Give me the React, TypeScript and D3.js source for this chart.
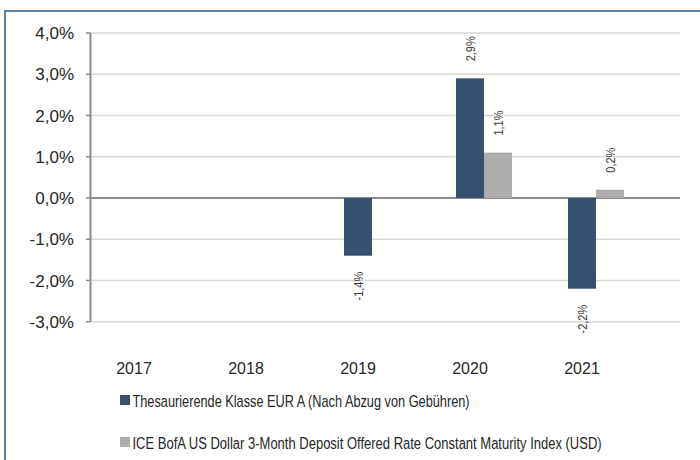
import React, { useLayoutEffect, useRef, useState } from "react";
import * as d3 from "d3";

const categories = ["2017", "2018", "2019", "2020", "2021"];
const seriesNames = [
  "Thesaurierende Klasse EUR A (Nach Abzug von Gebühren)",
  "ICE BofA US Dollar 3-Month Deposit Offered Rate Constant Maturity Index (USD)",
];
const fundValues: (number | null)[] = [null, null, -1.4, 2.9, -2.2];
const indexValues: (number | null)[] = [null, null, null, 1.1, 0.2];
const yTicks = [4, 3, 2, 1, 0, -1, -2, -3];

const colors = ["#36506f", "#adadad"];
const legendWidths = [337, 469];

const fmt = (v: number) => v.toFixed(1).replace(".", ",") + "%";
const font = "'Liberation Sans', Arial, sans-serif";

function FitText({
  x,
  y,
  width,
  children,
}: {
  x: number;
  y: number;
  width: number;
  children: string;
}) {
  const ref = useRef<SVGTextElement>(null);
  const [k, setK] = useState(0.75);
  useLayoutEffect(() => {
    if (ref.current) {
      const w = ref.current.getComputedTextLength();
      if (w > 0) setK(width / w);
    }
  }, [width, children]);
  return (
    <text
      ref={ref}
      transform={`translate(${x},${y}) scale(${k},1)`}
      fontFamily={font}
      fontSize={17}
      fill="#262626"
    >
      {children}
    </text>
  );
}

export default function App() {
  const W = 700;
  const H = 460;
  const y = d3.scaleLinear().domain([-3, 4]).range([321.7, 33]);
  const x = d3
    .scaleBand<string>()
    .domain(categories)
    .range([92, 652])
    .paddingInner(0.5)
    .paddingOuter(0.25);
  const x1 = d3.scaleBand<number>().domain([0, 1]).range([0, x.bandwidth()]);
  const axisX = 90.5;
  const gridRight = 680;
  const series = [fundValues, indexValues];

  return (
    <svg
      width={W}
      height={H}
      style={{ position: "absolute", left: 0, top: 0, display: "block", background: "#fff" }}
    >
      <rect x={5} y={11} width={W + 10} height={H + 10} fill="#fff" stroke="#5f84a8" strokeWidth={2} />
      {yTicks.map((t) => (
        <g key={t}>
          <line
            x1={axisX}
            x2={gridRight}
            y1={y(t)}
            y2={y(t)}
            stroke={t === 0 ? "#8a8a8a" : "#d9d9d9"}
            strokeWidth={t === 0 ? 2 : 1.6}
          />
          <line x1={86} x2={axisX} y1={y(t)} y2={y(t)} stroke="#8a8a8a" strokeWidth={1.5} />
          <text
            x={74}
            y={y(t)}
            dy="0.36em"
            textAnchor="end"
            fontFamily={font}
            fontSize={17}
            fill="#262626"
          >
            {fmt(t)}
          </text>
        </g>
      ))}
      <line x1={axisX} x2={axisX} y1={y(4)} y2={y(-3)} stroke="#8a8a8a" strokeWidth={2} />
      {series.map((vals, si) =>
        vals.map((v, i) => {
          if (v === null) return null;
          const bx = (x(categories[i]) as number) + (x1(si) as number);
          const bw = x1.bandwidth();
          const top = Math.min(y(v), y(0));
          const h = Math.abs(y(v) - y(0));
          const cx = bx + bw / 2;
          const ly = v >= 0 ? y(v) - 17 : y(v) + 16;
          return (
            <g key={`${si}-${i}`}>
              <rect x={bx} y={top} width={bw} height={h} fill={colors[si]} />
              <text
                transform={`translate(${cx + 4.5},${ly}) rotate(-90) scale(0.85,1)`}
                textAnchor={v >= 0 ? "start" : "end"}
                fontFamily={font}
                fontSize={13}
                fill="#404040"
              >
                {fmt(v)}
              </text>
            </g>
          );
        })
      )}
      {categories.map((c) => (
        <text
          key={c}
          x={(x(c) as number) + x.bandwidth() / 2 - 14}
          y={374}
          textAnchor="middle"
          fontFamily={font}
          fontSize={16}
          fill="#262626"
        >
          {c}
        </text>
      ))}
      {seriesNames.map((n, i) => (
        <g key={n} transform={`translate(120,${395 + i * 42})`}>
          <rect x={0} y={0} width={10} height={10} fill={colors[i]} />
          <FitText x={12.5} y={12} width={legendWidths[i]}>
            {n}
          </FitText>
        </g>
      ))}
    </svg>
  );
}
